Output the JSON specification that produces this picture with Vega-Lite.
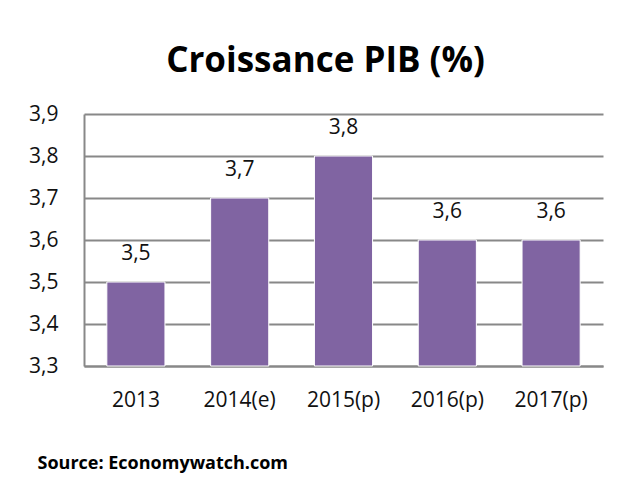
{
  "$schema": "https://vega.github.io/schema/vega-lite/v6.json",
  "autosize": {"type": "none"},
  "width": 519,
  "height": 252,
  "padding": {"left": 84, "top": 114, "right": 23, "bottom": 118},
  "background": "white",
  "title": {
    "text": "Croissance PIB (%)",
    "fontSize": 35,
    "font": "Open Sans",
    "fontWeight": "bold",
    "color": "#000000",
    "anchor": "middle",
    "frame": "group",
    "baseline": "alphabetic",
    "offset": -4,
    "dx": -18
  },
  "data": {
    "values": [
      {"year": "2013", "value": 3.5, "label": "3,5"},
      {"year": "2014(e)", "value": 3.7, "label": "3,7"},
      {"year": "2015(p)", "value": 3.8, "label": "3,8"},
      {"year": "2016(p)", "value": 3.6, "label": "3,6"},
      {"year": "2017(p)", "value": 3.6, "label": "3,6"}
    ]
  },
  "encoding": {
    "x": {
      "field": "year",
      "type": "nominal",
      "sort": null,
      "scale": {"paddingInner": 0.44, "paddingOuter": 0.22},
      "axis": {
        "labelAngle": 0,
        "labelFont": "Open Sans",
        "labelFontSize": 21,
        "labelColor": "#111111",
        "labelPadding": 23,
        "ticks": false,
        "domain": true,
        "domainColor": "#888888",
        "domainWidth": 2,
        "title": "Source: Economywatch.com",
        "titleFont": "Open Sans",
        "titleFontSize": 18,
        "titleFontWeight": "bold",
        "titleColor": "#000000",
        "titleX": -47,
        "titleY": 97,
        "titleAlign": "left",
        "titleBaseline": "middle",
        "titleAnchor": null
      }
    },
    "y": {
      "field": "value",
      "type": "quantitative",
      "scale": {"domain": [3.3, 3.9], "zero": false, "nice": false},
      "axis": {
        "values": [3.3, 3.4, 3.5, 3.6, 3.7, 3.8, 3.9],
        "labelExpr": "replace(format(datum.value, '.1f'), '.', ',')",
        "labelFont": "Open Sans",
        "labelFontSize": 21,
        "labelColor": "#111111",
        "labelPadding": 26,
        "ticks": false,
        "domain": true,
        "domainColor": "#888888",
        "domainWidth": 2,
        "grid": true,
        "gridColor": "#888888",
        "gridWidth": 2,
        "title": null
      }
    }
  },
  "layer": [
    {
      "mark": {"type": "bar", "color": "#8064A2", "stroke": "#ffffff", "strokeWidth": 1},
      "encoding": {"y2": {"datum": 3.3}}
    },
    {
      "mark": {"type": "text", "baseline": "middle", "dy": -28, "font": "Open Sans", "fontSize": 21, "color": "#111111"},
      "encoding": {"text": {"field": "label"}}
    }
  ],
  "config": {"view": {"stroke": null}}
}
